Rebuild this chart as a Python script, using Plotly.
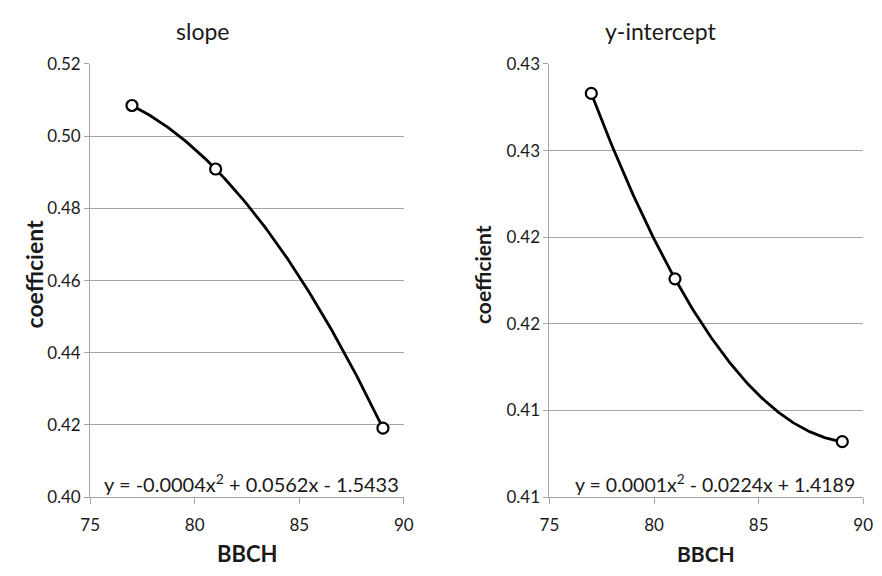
import numpy as np
import plotly.graph_objects as go

# ---- data ----
bbch = [77, 81, 89]
slope_vals = [0.5085, 0.4909, 0.4191]
intercept_vals = [0.4283, 0.4176, 0.4082]

slope_ticks = [0.40, 0.42, 0.44, 0.46, 0.48, 0.50, 0.52]
slope_ticktext = ["0.40", "0.42", "0.44", "0.46", "0.48", "0.50", "0.52"]
int_ticks = [0.405, 0.410, 0.415, 0.420, 0.425, 0.430]
int_ticktext = ["0.41", "0.41", "0.42", "0.42", "0.43", "0.43"]
x_ticks = [75, 80, 85, 90]

slope_eq = "y = -0.0004x<sup>2</sup> + 0.0562x - 1.5433"
int_eq = "y = 0.0001x<sup>2</sup> - 0.0224x + 1.4189"

FONT = "Lato"
GRID = "#a6a6a6"
INK = "#1a1a1a"

fig = go.Figure()

def add_series(xs, ys, xa, ya):
    coef = np.polyfit(xs, ys, 2)
    xx = np.linspace(min(xs), max(xs), 200)
    fig.add_trace(go.Scatter(x=xx, y=np.polyval(coef, xx), mode="lines",
                             line=dict(color="black", width=2.8),
                             xaxis=xa, yaxis=ya, showlegend=False, hoverinfo="skip"))
    fig.add_trace(go.Scatter(x=xs, y=ys, mode="markers",
                             marker=dict(symbol="circle", size=11, color="white",
                                         line=dict(color="black", width=2.2)),
                             xaxis=xa, yaxis=ya, showlegend=False))

add_series(bbch, slope_vals, "x", "y")
add_series(bbch, intercept_vals, "x2", "y2")

W, H = 882, 576
ydom = [(576 - 504.5) / H, (576 - 55) / H]

xcommon = dict(range=[75, 90], tickvals=x_ticks, ticks="outside", ticklen=6,
               tickcolor=GRID, showline=True, linecolor=GRID, linewidth=1,
               showgrid=False, zeroline=False, ticklabelstandoff=6,
               tickfont=dict(family=FONT, size=17, color=INK))
ycommon = dict(ticks="outside", ticklen=5, tickcolor=GRID, showline=True,
               linecolor=GRID, linewidth=1, showgrid=True, gridcolor=GRID,
               gridwidth=1, zeroline=False,
               tickfont=dict(family=FONT, size=17, color=INK))

fig.update_layout(
    width=W, height=H, margin=dict(l=0, r=0, t=0, b=0),
    paper_bgcolor="white", plot_bgcolor="white",
    xaxis=dict(domain=[82 / W, 403 / W], anchor="y", **xcommon),
    yaxis=dict(domain=ydom, anchor="x", range=[0.40, 0.52], tickvals=slope_ticks,
               ticktext=slope_ticktext, **ycommon),
    xaxis2=dict(domain=[552 / W, 873 / W], anchor="y2", **xcommon),
    yaxis2=dict(domain=ydom, anchor="x2", range=[0.405, 0.430], tickvals=int_ticks,
                ticktext=int_ticktext, **ycommon),
)

ann = [
    dict(text="slope", x=197 / W, y=1 - 21 / H, font=dict(size=23)),
    dict(text="y-intercept", x=666 / W, y=1 - 21 / H, font=dict(size=23)),
    dict(text="<b>BBCH</b>", x=242 / W, y=1 - 563 / H, font=dict(size=22)),
    dict(text="<b>BBCH</b>", x=712 / W, y=1 - 563 / H, font=dict(size=21)),
    dict(text="<b>coefficient</b>", x=25 / W, y=1 - 273 / H, font=dict(size=23), textangle=-90),
    dict(text="<b>coefficient</b>", x=483 / W, y=1 - 274 / H, font=dict(size=21), textangle=-90),
    dict(text=slope_eq, x=400 / W, y=1 - 490 / H, xanchor="right", font=dict(size=20)),
    dict(text=int_eq, x=867 / W, y=1 - 490 / H, xanchor="right", font=dict(size=19.5)),
]
for a in ann:
    a.setdefault("xanchor", "center")
    a["font"] = dict(family=FONT, color=INK, **a["font"])
    fig.add_annotation(xref="paper", yref="paper", yanchor="middle", showarrow=False, **a)

fig.write_html("out.html")
